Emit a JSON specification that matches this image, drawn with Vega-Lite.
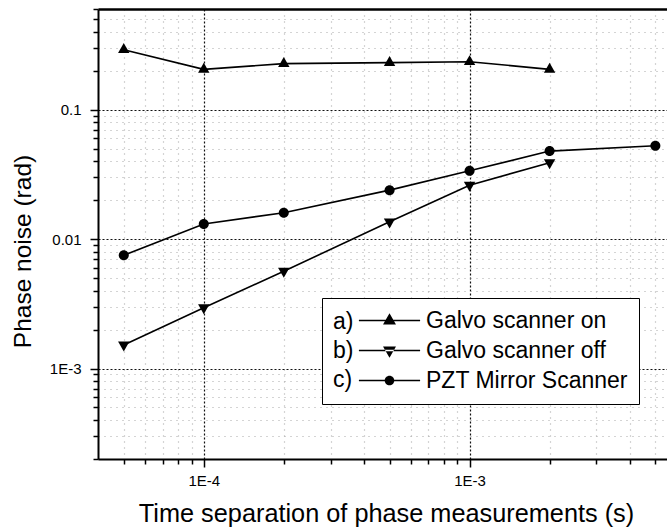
{
  "$schema": "https://vega.github.io/schema/vega-lite/v6.json",
  "width": 569,
  "height": 450,
  "autosize": "none",
  "padding": {"left": 98, "top": 9, "right": 0, "bottom": 72},
  "background": "white",
  "config": {
    "font": "Liberation Sans",
    "view": {"stroke": null},
    "axis": {
      "labelFont": "Liberation Sans",
      "titleFont": "Liberation Sans",
      "labelColor": "black",
      "titleColor": "black",
      "titleFontWeight": "normal",
      "domainColor": "black",
      "tickColor": "black"
    }
  },
  "data": {
    "values": [
      {"t": 0.00005, "noise": 0.291, "series": "Galvo scanner on"},
      {"t": 0.0001, "noise": 0.205, "series": "Galvo scanner on"},
      {"t": 0.0002, "noise": 0.227, "series": "Galvo scanner on"},
      {"t": 0.0005, "noise": 0.231, "series": "Galvo scanner on"},
      {"t": 0.001, "noise": 0.235, "series": "Galvo scanner on"},
      {"t": 0.002, "noise": 0.205, "series": "Galvo scanner on"},
      {"t": 0.00005, "noise": 0.00152, "series": "Galvo scanner off"},
      {"t": 0.0001, "noise": 0.00295, "series": "Galvo scanner off"},
      {"t": 0.0002, "noise": 0.00565, "series": "Galvo scanner off"},
      {"t": 0.0005, "noise": 0.0136, "series": "Galvo scanner off"},
      {"t": 0.001, "noise": 0.0261, "series": "Galvo scanner off"},
      {"t": 0.002, "noise": 0.0389, "series": "Galvo scanner off"},
      {"t": 0.00005, "noise": 0.0075, "series": "PZT Mirror Scanner"},
      {"t": 0.0001, "noise": 0.0131, "series": "PZT Mirror Scanner"},
      {"t": 0.0002, "noise": 0.016, "series": "PZT Mirror Scanner"},
      {"t": 0.0005, "noise": 0.0239, "series": "PZT Mirror Scanner"},
      {"t": 0.001, "noise": 0.0337, "series": "PZT Mirror Scanner"},
      {"t": 0.002, "noise": 0.0479, "series": "PZT Mirror Scanner"},
      {"t": 0.005, "noise": 0.0526, "series": "PZT Mirror Scanner"}
    ]
  },
  "resolve": {
    "axis": {"x": "independent"},
    "scale": {"shape": "independent"},
    "legend": {"shape": "independent"}
  },
  "layer": [
    {
      "mark": {"type": "line", "color": "black", "strokeWidth": 1.6},
      "encoding": {
        "x": {
          "field": "t", "type": "quantitative",
          "scale": {"type": "log", "domain": [0.00004, 0.00553], "nice": false},
          "axis": {
            "orient": "bottom",
            "title": "Time separation of phase measurements (s)",
            "titleFontSize": 25.3,
            "titlePadding": 13,
            "titleX": 288,
            "values": [0.00005, 0.00006, 0.00007, 0.00008, 0.00009, 0.0001, 0.0002, 0.0003, 0.0004, 0.0005, 0.0006, 0.0007, 0.0008, 0.0009, 0.001, 0.002, 0.003, 0.004, 0.005],
            "labelExpr": "datum.value == 0.0001 ? '1E-4' : datum.value == 0.001 ? '1E-3' : ''",
            "labelFontSize": 15,
            "labelPadding": 6,
            "labelFlush": false,
            "labelOverlap": false,
            "domainWidth": 2,
            "tickWidth": 1.5,
            "tickSize": {"condition": {"test": "datum.value == 0.0001 || datum.value == 0.001", "value": 8}, "value": 5},
            "grid": true,
            "gridWidth": 1.2,
            "gridColor": {"condition": {"test": "datum.value == 0.0001 || datum.value == 0.001", "value": "#111"}, "value": "#aaa"},
            "gridDash": {"condition": {"test": "datum.value == 0.0001 || datum.value == 0.001", "value": [2, 2]}, "value": [1, 5]}
          }
        },
        "y": {
          "field": "noise", "type": "quantitative",
          "scale": {"type": "log", "domain": [0.0002, 0.6], "nice": false},
          "axis": {
            "title": "Phase noise (rad)",
            "titleFontSize": 24.5,
            "titlePadding": 14,
            "titleY": 242,
            "values": [0.0002, 0.0003, 0.0004, 0.0005, 0.0006, 0.0007, 0.0008, 0.0009, 0.001, 0.002, 0.003, 0.004, 0.005, 0.006, 0.007, 0.008, 0.009, 0.01, 0.02, 0.03, 0.04, 0.05, 0.06, 0.07, 0.08, 0.09, 0.1, 0.2, 0.3, 0.4, 0.5, 0.6],
            "labelExpr": "datum.value == 0.1 ? '0.1' : datum.value == 0.01 ? '0.01' : datum.value == 0.001 ? '1E-3' : ''",
            "labelFontSize": 15,
            "labelPadding": 9,
            "labelOverlap": false,
            "labelFlush": false,
            "domainWidth": 2,
            "tickWidth": 1.5,
            "tickSize": {"condition": {"test": "datum.value == 0.1 || datum.value == 0.01 || datum.value == 0.001", "value": 8}, "value": 5},
            "grid": true,
            "gridWidth": 1.2,
            "gridColor": {"condition": {"test": "datum.value == 0.1 || datum.value == 0.01 || datum.value == 0.001", "value": "#111"}, "value": "#aaa"},
            "gridDash": {"condition": {"test": "datum.value == 0.1 || datum.value == 0.01 || datum.value == 0.001", "value": [2, 2]}, "value": [1, 5]}
          }
        },
        "detail": {"field": "series"}
      }
    },
    {
      "mark": {"type": "point", "filled": true, "color": "black", "opacity": 1, "size": 130},
      "encoding": {
        "x": {
          "field": "t", "type": "quantitative",
          "axis": {"orient": "top", "title": null, "labels": false, "ticks": false, "grid": false, "domainWidth": 2.5}
        },
        "y": {"field": "noise", "type": "quantitative"},
        "shape": {
          "field": "series", "type": "nominal",
          "scale": {
            "domain": ["Galvo scanner on", "Galvo scanner off", "PZT Mirror Scanner"],
            "range": ["M0,-1.15L1,0.6L-1,0.6Z", "M0,1.15L1,-0.6L-1,-0.6Z", "M0.88,0A0.88,0.88,0,1,1,-0.88,0A0.88,0.88,0,1,1,0.88,0Z"]
          },
          "legend": null
        }
      }
    },
    {
      "mark": {"type": "point", "filled": true, "color": "black", "opacity": 0, "size": 144},
      "encoding": {
        "x": {"field": "t", "type": "quantitative", "axis": null},
        "y": {"field": "noise", "type": "quantitative"},
        "shape": {
          "field": "series", "type": "nominal",
          "scale": {
            "domain": ["Galvo scanner on", "Galvo scanner off", "PZT Mirror Scanner"],
            "range": [
              "M-5.1,-0.13H5.1V0.13H-5.1ZM0,-1.2L1.08,0.65L-1.08,0.65Z",
              "M-5.1,-0.13H5.1V0.13H-5.1ZM0,1.2L1.08,-0.65L-1.08,-0.65Z",
              "M-5.1,-0.13H5.1V0.13H-5.1ZM0.8,0A0.8,0.8,0,1,1,-0.8,0A0.8,0.8,0,1,1,0.8,0Z"
            ]
          },
          "legend": {
            "orient": "none",
            "legendX": 224,
            "legendY": 289,
            "title": ["a)", "b)", "c)"],
            "titleOrient": "left",
            "titleFont": "Liberation Sans",
            "titleFontSize": 23,
            "titleFontWeight": "normal",
            "titleColor": "black",
            "titleLineHeight": 29,
            "titlePadding": 24,
            "labelFont": "Liberation Sans",
            "labelFontSize": 23,
            "labelColor": "black",
            "labelOffset": 25,
            "labelLimit": 400,
            "symbolSize": 144,
            "symbolStrokeWidth": 0,
            "symbolFillColor": "black",
            "symbolOpacity": 1,
            "rowPadding": 6,
            "padding": 11,
            "strokeColor": "black",
            "fillColor": "white",
            "cornerRadius": 0
          }
        }
      }
    }
  ]
}
